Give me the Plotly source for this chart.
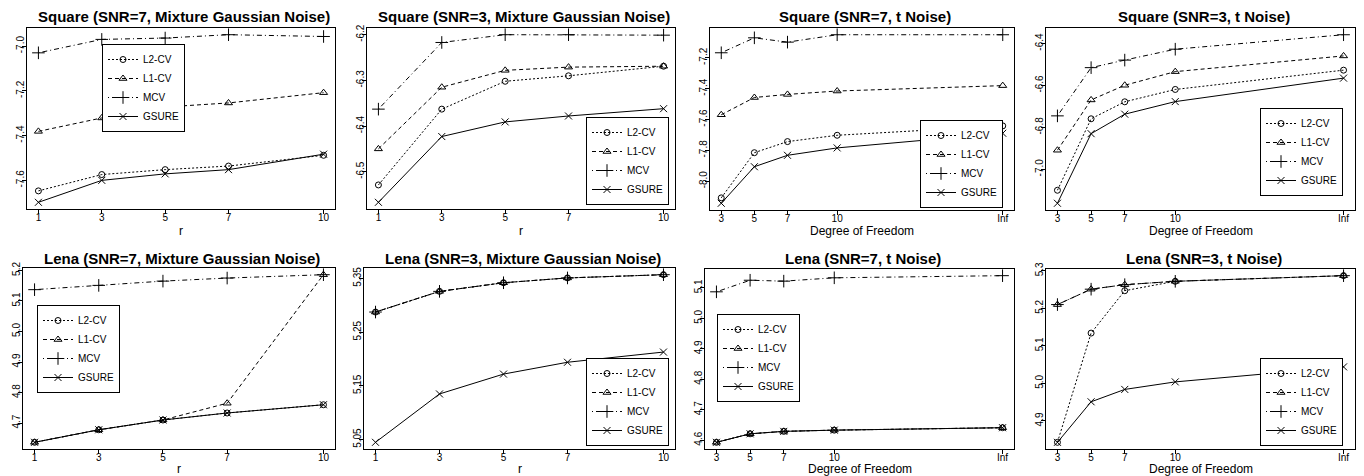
import plotly.graph_objects as go

# ---------------- data ----------------
r_values = [1, 3, 5, 7, 10]
df_values = [3, 5, 7, 10, 20]          # "Inf" is drawn at position 20
df_ticklabels = ["3", "5", "7", "10", "Inf"]
series_names = ["L2-CV", "L1-CV", "MCV", "GSURE"]

titles = [
    "Square (SNR=7, Mixture Gaussian Noise)",
    "Square (SNR=3, Mixture Gaussian Noise)",
    "Square (SNR=7, t Noise)",
    "Square (SNR=3, t Noise)",
    "Lena (SNR=7, Mixture Gaussian Noise)",
    "Lena (SNR=3, Mixture Gaussian Noise)",
    "Lena (SNR=7, t Noise)",
    "Lena (SNR=3, t Noise)",
]

sq7_mix_l2 = [-7.647, -7.574, -7.552, -7.536, -7.488]
sq7_mix_l1 = [-7.381, -7.321, -7.272, -7.254, -7.208]
sq7_mix_mcv = [-7.030, -6.970, -6.964, -6.949, -6.957]
sq7_mix_gsure = [-7.698, -7.600, -7.571, -7.552, -7.483]

sq3_mix_l2 = [-6.529, -6.363, -6.302, -6.290, -6.269]
sq3_mix_l1 = [-6.450, -6.315, -6.278, -6.271, -6.269]
sq3_mix_mcv = [-6.363, -6.217, -6.200, -6.200, -6.201]
sq3_mix_gsure = [-6.567, -6.423, -6.391, -6.378, -6.362]

sq7_t_l2 = [-8.108, -7.815, -7.743, -7.702, -7.641]
sq7_t_l1 = [-7.569, -7.457, -7.437, -7.415, -7.380]
sq7_t_mcv = [-7.167, -7.070, -7.098, -7.050, -7.050]
sq7_t_gsure = [-8.143, -7.906, -7.832, -7.784, -7.689]

sq3_t_l2 = [-7.100, -6.759, -6.678, -6.619, -6.527]
sq3_t_l1 = [-6.909, -6.669, -6.599, -6.534, -6.459]
sq3_t_mcv = [-6.745, -6.515, -6.479, -6.427, -6.358]
sq3_t_gsure = [-7.162, -6.830, -6.737, -6.677, -6.565]

lena7_mix_l2 = [4.637, 4.678, 4.710, 4.733, 4.760]
lena7_mix_l1 = [4.637, 4.678, 4.710, 4.765, 5.186]
lena7_mix_mcv = [5.137, 5.151, 5.165, 5.175, 5.186]
lena7_mix_gsure = [4.637, 4.678, 4.710, 4.733, 4.760]

lena3_mix_l2 = [5.2875, 5.326, 5.342, 5.351, 5.357]
lena3_mix_l1 = [5.2875, 5.326, 5.342, 5.351, 5.357]
lena3_mix_mcv = [5.2875, 5.326, 5.342, 5.351, 5.357]
lena3_mix_gsure = [5.045, 5.135, 5.172, 5.194, 5.213]

lena7_t_l2 = [4.593, 4.621, 4.629, 4.633, 4.641]
lena7_t_l1 = [4.593, 4.621, 4.629, 4.633, 4.641]
lena7_t_mcv = [5.087, 5.125, 5.122, 5.133, 5.140]
lena7_t_gsure = [4.593, 4.621, 4.629, 4.633, 4.641]

lena3_t_l2 = [4.843, 5.134, 5.247, 5.272, 5.287]
lena3_t_l1 = [5.210, 5.251, 5.263, 5.272, 5.287]
lena3_t_mcv = [5.210, 5.251, 5.263, 5.272, 5.287]
lena3_t_gsure = [4.843, 4.951, 4.984, 5.004, 5.044]

yticks_sq7_mix = [-7.6, -7.4, -7.2, -7.0]
yticks_sq3_mix = [-6.5, -6.4, -6.3, -6.2]
yticks_sq7_t = [-8.0, -7.8, -7.6, -7.4, -7.2]
yticks_sq3_t = [-7.0, -6.8, -6.6, -6.4]
yticks_lena7_mix = [4.7, 4.8, 4.9, 5.0, 5.1, 5.2]
yticks_lena3_mix = [5.05, 5.15, 5.25, 5.35]
yticks_lena7_t = [4.6, 4.7, 4.8, 4.9, 5.0, 5.1]
yticks_lena3_t = [4.9, 5.0, 5.1, 5.2, 5.3]

panels_data = [
    ("r", [sq7_mix_l2, sq7_mix_l1, sq7_mix_mcv, sq7_mix_gsure], yticks_sq7_mix, ".1f"),
    ("r", [sq3_mix_l2, sq3_mix_l1, sq3_mix_mcv, sq3_mix_gsure], yticks_sq3_mix, ".1f"),
    ("df", [sq7_t_l2, sq7_t_l1, sq7_t_mcv, sq7_t_gsure], yticks_sq7_t, ".1f"),
    ("df", [sq3_t_l2, sq3_t_l1, sq3_t_mcv, sq3_t_gsure], yticks_sq3_t, ".1f"),
    ("r", [lena7_mix_l2, lena7_mix_l1, lena7_mix_mcv, lena7_mix_gsure], yticks_lena7_mix, ".1f"),
    ("r", [lena3_mix_l2, lena3_mix_l1, lena3_mix_mcv, lena3_mix_gsure], yticks_lena3_mix, ".2f"),
    ("df", [lena7_t_l2, lena7_t_l1, lena7_t_mcv, lena7_t_gsure], yticks_lena7_t, ".1f"),
    ("df", [lena3_t_l2, lena3_t_l1, lena3_t_mcv, lena3_t_gsure], yticks_lena3_t, ".1f"),
]

# ---------------- layout / style ----------------
W, H = 1364, 476
FONT = "Liberation Sans, Arial, Helvetica, sans-serif"

# plot-area boxes in pixels: (left, right, top, bottom)
boxes = [
    (27, 335, 28, 209), (367, 675, 28, 209), (710, 1014, 28, 210), (1046, 1355, 28, 210),
    (23, 335, 268, 449), (364, 675, 268, 449), (705, 1014, 269, 449), (1046, 1355, 269, 449),
]
# legend anchor in pixels: (x_left, y, yanchor)
legend_pos = [
    (102, 44, "top"), (586, 205, "bottom"), (920, 208, "bottom"), (1260, 196, "bottom"),
    (37, 305, "top"), (586, 446, "bottom"), (717, 314, "top"), (1260, 446, "bottom"),
]
title_y = [17, 17, 17, 17, 258, 258, 258, 258]
xtitle_y = [231, 231, 231, 231, 469, 469, 469, 469]

styles = [
    dict(dash="2px,2px", symbol="circle-open", size=6),
    dict(dash="4px,3px", symbol="triangle-up-open", size=7),
    dict(dash="1px,3px,5px,3px", symbol="cross-thin-open", size=9),
    dict(dash="solid", symbol="x-thin-open", size=7),
]


def fx(px):
    return px / W


def fy(py):
    return 1 - py / H


fig = go.Figure()
layout = dict(
    template="none",
    width=W, height=H, margin=dict(l=0, r=0, t=0, b=0, autoexpand=False),
    paper_bgcolor="white", plot_bgcolor="white",
    font=dict(family=FONT, color="black", size=10),
    annotations=[],
)

for i, (xkind, series, yticks, yfmt) in enumerate(panels_data):
    n = i + 1
    xs = r_values if xkind == "r" else df_values
    xname = "x" if n == 1 else f"x{n}"
    yname = "y" if n == 1 else f"y{n}"
    lname = "legend" if n == 1 else f"legend{n}"
    for name, vals, st in zip(series_names, series, styles):
        fig.add_trace(go.Scatter(
            x=xs, y=vals, name=name, mode="lines+markers",
            xaxis=xname, yaxis=yname, legend=lname,
            line=dict(color="black", width=1, dash=st["dash"]),
            marker=dict(symbol=st["symbol"], size=st["size"], color="black",
                        line=dict(color="black", width=1)),
        ))
    left, right, top, bottom = boxes[i]
    allv = [v for s in series for v in s]
    lo, hi = min(allv), max(allv)
    pad = 0.04 * (hi - lo)
    xlo, xhi = min(xs), max(xs)
    xpad = 0.04 * (xhi - xlo)
    common = dict(showline=True, mirror=True, linecolor="black", linewidth=1,
                  ticks="outside", ticklen=4, tickcolor="black", tickwidth=1,
                  showgrid=False, zeroline=False, automargin=False,
                  tickfont=dict(family=FONT, size=10, color="black"))
    xa = dict(common, domain=[fx(left), fx(right)], anchor=yname,
              range=[xlo - xpad, xhi + xpad], tickvals=xs, ticklabelstandoff=-5,
              ticktext=[str(v) for v in r_values] if xkind == "r" else df_ticklabels)
    ya = dict(common, domain=[fy(bottom), fy(top)], anchor=xname,
              range=[lo - pad, hi + pad], tickvals=yticks, ticklabelstandoff=-6,
              ticktext=[format(v, yfmt) for v in yticks], tickangle=-90)
    layout["xaxis" if n == 1 else f"xaxis{n}"] = xa
    layout["yaxis" if n == 1 else f"yaxis{n}"] = ya

    lx, ly, lanchor = legend_pos[i]
    layout[lname] = dict(
        x=fx(lx), y=fy(ly), xanchor="left", yanchor=lanchor,
        bgcolor="white", bordercolor="black", borderwidth=1,
        font=dict(family=FONT, size=10, color="black"),
        itemwidth=30, tracegroupgap=0,
    )

    layout["annotations"].append(dict(
        text=f"<b>{titles[i]}</b>", xref="paper", yref="paper",
        x=fx((left + right) / 2 + 3), y=fy(title_y[i]), xanchor="center", yanchor="middle",
        showarrow=False, font=dict(family=FONT, size=15, color="black"),
    ))
    layout["annotations"].append(dict(
        text="r" if xkind == "r" else "Degree of Freedom", xref="paper", yref="paper",
        x=fx((left + right) / 2), y=fy(xtitle_y[i]), xanchor="center", yanchor="middle",
        showarrow=False, font=dict(family=FONT, size=12, color="black"),
    ))

fig.update_layout(**layout)
fig.write_html(
    "out.html",
    config={"displayModeBar": False},
    post_script="document.body.style.margin='0px';document.body.style.overflow='hidden';",
)
